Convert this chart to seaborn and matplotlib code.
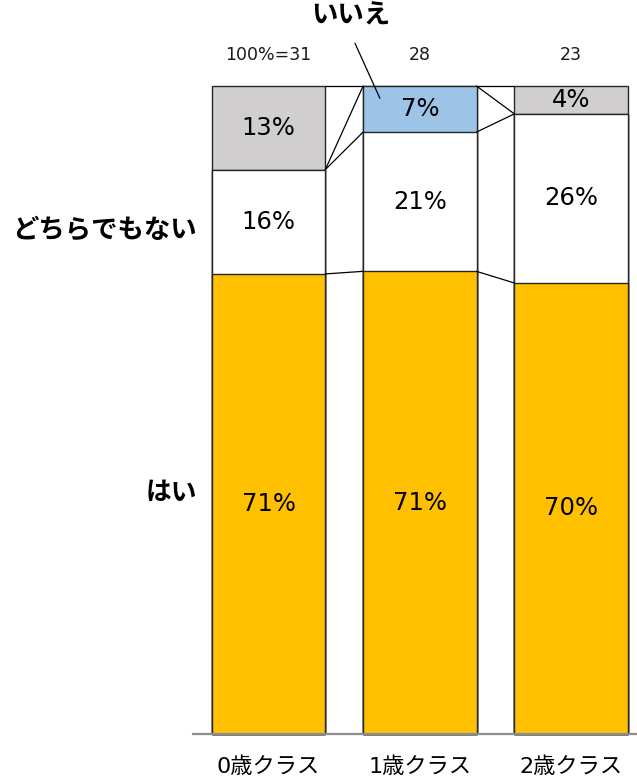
import numpy as np
import pandas as pd
import matplotlib
matplotlib.use('Agg')
import matplotlib.pyplot as plt
import seaborn as sns

sns.set_style('white')
plt.rcParams['font.family'] = ['DejaVu Sans', 'Noto Sans CJK JP']

classes = ['0歳クラス', '1歳クラス', '2歳クラス']
totals = ['100%=31', '28', '23']
# percent of each answer per class
hai = [71.0, 71.4, 69.6]        # はい
dochira = [16.1, 21.5, 26.1]    # どちらでもない
iie = [0.0, 7.1, 0.0]           # いいえ
other = [12.9, 0.0, 4.3]        # grey segment
labels_hai = ['71%', '71%', '70%']
labels_dochira = ['16%', '21%', '26%']
labels_iie = ['', '7%', '']
labels_other = ['13%', '', '4%']

series = [
    ('はい', hai, labels_hai, '#FFC000'),
    ('どちらでもない', dochira, labels_dochira, '#FFFFFF'),
    ('いいえ', iie, labels_iie, '#9DC3E6'),
    ('other', other, labels_other, '#D0CECE'),
]

# cumulative tops of each series
cum = np.round(np.cumsum([s[1] for s in series], axis=0), 3)

fig = plt.figure(figsize=(6.37, 7.82), dpi=100)
ax = fig.add_axes([0.303, 0.0614, 0.697, 0.8286])

w = 0.75
# draw from the top series down so lower ones overlay
for k in range(len(series) - 1, -1, -1):
    df = pd.DataFrame({'cls': classes, 'top': cum[k]})
    sns.barplot(data=df, x='cls', y='top', color=series[k][3], saturation=1,
                width=w, edgecolor='#262626', linewidth=1.0, ax=ax, zorder=2)

for p in ax.patches:
    p.set_clip_on(False)

# series connector lines between neighbouring bars
for k in range(len(series)):
    for i in range(len(classes) - 1):
        ax.plot([i + w / 2, i + 1 - w / 2], [cum[k][i], cum[k][i + 1]],
                color='black', linewidth=0.9, zorder=3, clip_on=False)

# segment labels
for k, (name, vals, labs, col) in enumerate(series):
    for i in range(len(classes)):
        if labs[i]:
            y = cum[k][i] - vals[i] / 2
            ax.text(i, y, labs[i], ha='center', va='center', fontsize=17.5,
                    color='black', zorder=4)

for i, t in enumerate(totals):
    ax.text(i, 104.8, t, ha='center', va='center', fontsize=12.5, color='#1a1a1a')

ax.text(0.545, 110.8, 'いいえ', ha='center', va='center', fontsize=19,
        fontweight='bold', color='black', family=['Noto Sans CJK JP'])
ax.plot([0.571, 0.736], [106.6, 98.1], color='black', linewidth=0.9, clip_on=False, zorder=5)
ax.text(-0.475, 77.8, 'どちらでもない', ha='right', va='center', fontsize=19,
        fontweight='bold', color='black', family=['Noto Sans CJK JP'])
ax.text(-0.475, 37.3, 'はい', ha='right', va='center', fontsize=18.5,
        fontweight='bold', color='black', family=['Noto Sans CJK JP'])

ax.set_xlim(-0.5, 2.436)
ax.set_ylim(0, 100)
ax.set_xlabel('')
ax.set_ylabel('')
ax.set_yticks([])
ax.set_xticks(range(len(classes)))
ax.set_xticklabels(classes, fontsize=16, color='black')
ax.tick_params(axis='x', length=0, pad=16)
for s in ['top', 'right', 'left']:
    ax.spines[s].set_visible(False)
ax.spines['bottom'].set_color('#8c8c8c')
ax.spines['bottom'].set_linewidth(1.6)

fig.savefig('out.png', dpi=100)
